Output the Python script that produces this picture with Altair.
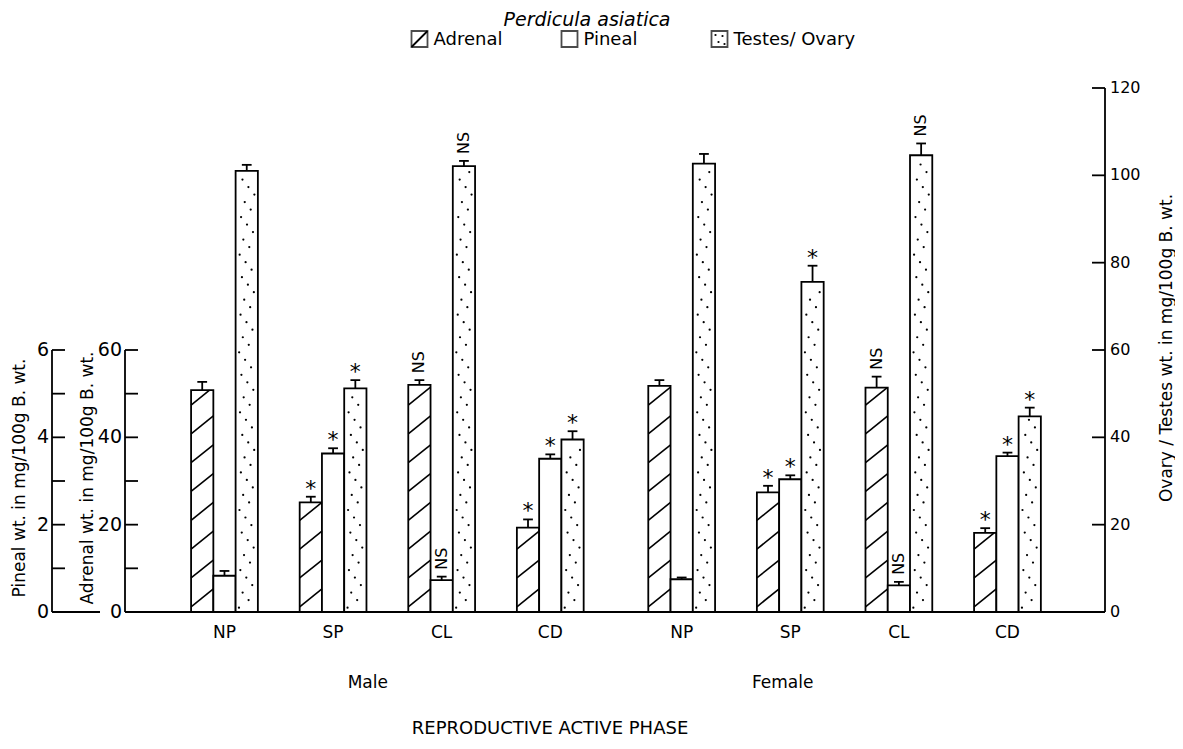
import altair as alt
import pandas as pd

# ---------------- data ----------------
phases = ["NP", "SP", "CL", "CD"]
sexes = ["Male", "Female"]
organs = ["Adrenal", "Pineal", "Testes/ Ovary"]

# order: Male NP, SP, CL, CD, Female NP, SP, CL, CD
adrenal = [50.8, 25.1, 52.0, 19.3, 51.8, 27.4, 51.4, 18.1]        # mg/100 g
adrenal_se = [1.9, 1.3, 1.1, 1.9, 1.3, 1.5, 2.5, 1.1]
pineal = [0.83, 3.63, 0.73, 3.51, 0.75, 3.04, 0.61, 3.57]          # mg/100 g
pineal_se = [0.11, 0.12, 0.08, 0.10, 0.04, 0.09, 0.08, 0.08]
gonad = [101.0, 51.2, 102.1, 39.5, 102.7, 75.6, 104.6, 44.8]        # mg/100 g
gonad_se = [1.4, 1.9, 1.2, 1.9, 2.2, 3.7, 2.7, 2.0]
signif = ["", "*", "NS", "*", "", "*", "NS", "*"]

pineal_ticks = [0, 1, 2, 3, 4, 5, 6]
pineal_labels = [0, 2, 4, 6]
adrenal_ticks = [0, 10, 20, 30, 40, 50, 60]
adrenal_labels = [0, 20, 40, 60]
right_ticks = [0, 20, 40, 60, 80, 100, 120]

title = "Perdicula asiatica"
pineal_title = "Pineal wt. in mg/100g B. wt."
adrenal_title = "Adrenal wt. in mg/100g B. wt."
right_title = "Ovary / Testes wt. in mg/100g B. wt."
x_title = "REPRODUCTIVE ACTIVE PHASE"

# ---------------- layout constants ----------------
W, H = 980, 524
XMIN, XMAX = -0.916, 8.108
GAP = 0.21           # extra space between Male and Female groups
BW = 0.205           # bar width (x units)
CAP = 0.045          # half width of error-bar cap
PINEAL_FACTOR = 10   # pineal axis 0-6 sits beside adrenal axis 0-60
TICK = 13
FONT = "DejaVu Sans"
SW = 1.8

XS = alt.Scale(domain=[XMIN, XMAX], nice=False, zero=False)
YS = alt.Scale(domain=[0, 120], nice=False, zero=False)


def X(f):
    return alt.X(f, type="quantitative", scale=XS, axis=None)


def Y(f):
    return alt.Y(f, type="quantitative", scale=YS, axis=None)


# ---------------- derived tables ----------------
rows = []
for si, sex in enumerate(sexes):
    for pi, ph in enumerate(phases):
        i = si * 4 + pi
        pos = pi + si * (4 + GAP)
        vals = [adrenal[i], pineal[i] * PINEAL_FACTOR, gonad[i]]
        ses = [adrenal_se[i], pineal_se[i] * PINEAL_FACTOR, gonad_se[i]]
        for oi, org in enumerate(organs):
            c = pos + (oi - 1) * BW
            rows.append(dict(sex=sex, phase=ph, organ=org, pos=pos, center=c,
                             left=c - BW / 2, right=c + BW / 2, base=0.0,
                             val=vals[oi], top=vals[oi] + ses[oi],
                             capl=c - CAP, capr=c + CAP, sig=signif[i]))
bar_df = pd.DataFrame(rows)

# diagonal hatching of the adrenal bars
HSTEP, HRISE, HPHASE = 6.6, 4.1, 1.2
hatch = []
for r in rows:
    if r["organ"] != organs[0]:
        continue
    y0 = HPHASE - HSTEP
    while y0 < r["val"]:
        t0 = max(0.0, (0 - y0) / HRISE)
        t1 = min(1.0, (r["val"] - y0) / HRISE)
        if t1 > t0:
            hatch.append(dict(x0=r["left"] + t0 * BW, x1=r["left"] + t1 * BW,
                              y0=y0 + t0 * HRISE, y1=y0 + t1 * HRISE))
        y0 += HSTEP
hatch_df = pd.DataFrame(hatch)

# stipple of the testes / ovary bars
DSTEP = 1.72
dots = []
for r in rows:
    if r["organ"] != organs[2]:
        continue
    k = 0
    y = 1.0
    while y < r["val"] - 0.8:
        frac = (k * 0.618) % 1.0
        dots.append(dict(x=r["left"] + BW * (0.15 + 0.7 * frac), y=y))
        k += 1
        y += DSTEP
dots_df = pd.DataFrame(dots)

group_df = bar_df.drop_duplicates("pos")[["pos", "phase"]]
sex_df = pd.DataFrame({"sex": sexes, "pos": [1.32, 4 + GAP + 0.93]})

black = dict(color="black", strokeWidth=SW)

# ---------------- bars & decorations ----------------
bars = alt.Chart(bar_df).mark_rect(fill="white", stroke="black", strokeWidth=SW).encode(
    x=X("left"), x2=alt.X2("right"), y=Y("val"), y2=alt.Y2("base"))
hatch_l = alt.Chart(hatch_df).mark_rule(color="black", strokeWidth=1.6).encode(
    x=X("x0"), x2=alt.X2("x1"), y=Y("y0"), y2=alt.Y2("y1"))
dots_l = alt.Chart(dots_df).mark_circle(color="black", size=5, opacity=1).encode(
    x=X("x"), y=Y("y"))
err = alt.Chart(bar_df).mark_rule(**black).encode(x=X("center"), y=Y("val"), y2=alt.Y2("top"))
cap = alt.Chart(bar_df).mark_rule(**black).encode(x=X("capl"), x2=alt.X2("capr"), y=Y("top"))
stars = alt.Chart(bar_df).transform_filter(alt.datum.sig == "*").mark_text(
    font=FONT, fontSize=22, baseline="alphabetic", dy=-1).encode(
    x=X("center"), y=Y("top"), text="sig:N")
ns = alt.Chart(bar_df).transform_filter(alt.datum.sig == "NS").mark_text(
    font=FONT, fontSize=16, angle=270, align="left", baseline="middle", dx=7).encode(
    x=X("center"), y=Y("top"), text="sig:N")

# ---------------- axes drawn by hand ----------------
one = pd.DataFrame({"b": [0.0]})
baseline = alt.Chart(one).mark_rule(**black).encode(
    x=alt.value(0), x2=alt.value(W), y=Y("b"))
pin_base = alt.Chart(one).mark_rule(**black).encode(
    x=alt.value(-73), x2=alt.value(-25), y=Y("b"))

adr_df = pd.DataFrame({"v": adrenal_ticks})
adr_dom = alt.Chart(pd.DataFrame({"lo": [0], "hi": [max(adrenal_ticks)]})).mark_rule(**black).encode(
    x=alt.value(0), y=Y("lo"), y2=alt.Y2("hi"))
adr_tk = alt.Chart(adr_df).mark_rule(**black).encode(
    x=alt.value(0), x2=alt.value(TICK), y=Y("v"))
adr_lab = alt.Chart(pd.DataFrame({"v": adrenal_labels})).mark_text(
    font=FONT, fontSize=19, align="right", baseline="middle").encode(
    x=alt.value(-3), y=Y("v"), text="v:Q")

pin_df = pd.DataFrame({"v": pineal_ticks})
pin_dom = alt.Chart(pd.DataFrame({"lo": [0], "hi": [max(pineal_ticks)]})).transform_calculate(
    hs=f"datum.hi * {PINEAL_FACTOR}").mark_rule(**black).encode(
    x=alt.value(-73), y=Y("lo"), y2=alt.Y2("hs"))
pin_tk = alt.Chart(pin_df).transform_calculate(s=f"datum.v * {PINEAL_FACTOR}").mark_rule(**black).encode(
    x=alt.value(-73), x2=alt.value(-73 + TICK), y=Y("s"))
pin_lab = alt.Chart(pd.DataFrame({"v": pineal_labels})).transform_calculate(
    s=f"datum.v * {PINEAL_FACTOR}").mark_text(
    font=FONT, fontSize=19, align="right", baseline="middle").encode(
    x=alt.value(-76), y=Y("s"), text="v:Q")

rt_df = pd.DataFrame({"v": right_ticks})
rt_dom = alt.Chart(pd.DataFrame({"lo": [0], "hi": [max(right_ticks)]})).mark_rule(**black).encode(
    x=alt.value(W), y=Y("lo"), y2=alt.Y2("hi"))
rt_tk = alt.Chart(rt_df).mark_rule(**black).encode(
    x=alt.value(W - TICK), x2=alt.value(W), y=Y("v"))
rt_lab = alt.Chart(rt_df).mark_text(font=FONT, fontSize=16, align="left", baseline="middle").encode(
    x=alt.value(W + 5), y=Y("v"), text="v:Q")


def ptext(txt, x, y, size, angle=0, style="normal"):
    kw = dict(font=FONT, fontSize=size, align="center", baseline="middle", fontStyle=style)
    if angle:
        kw["angle"] = angle
    return alt.Chart(pd.DataFrame({"t": [txt]})).mark_text(**kw).encode(
        x=alt.value(x), y=alt.value(y), text="t:N")


titles = [
    ptext(pineal_title, -105, 390, 17, 270),
    ptext(adrenal_title, -37, 390, 17, 270),
    ptext(right_title, 1042, 260, 17, 270),
    ptext(x_title, 425, H + 117, 18),
    ptext(title, 462, -68, 19, style="italic"),
]

cat_lab = alt.Chart(group_df).mark_text(font=FONT, fontSize=17, baseline="middle").encode(
    x=X("pos"), y=alt.value(H + 21), text="phase:N")
sex_lab = alt.Chart(sex_df).mark_text(font=FONT, fontSize=17, baseline="middle").encode(
    x=X("pos"), y=alt.value(H + 71), text="sex:N")

# ---------------- legend ----------------
LY = -49
leg_df = pd.DataFrame({"organ": organs, "bx": [294.5 + 150 * i for i in range(len(organs))]})
leg_box = alt.Chart(leg_df).mark_point(shape="square", size=256, filled=False, stroke="black",
                                       strokeWidth=SW, fill="white").encode(
    x=alt.X("bx:Q", scale=None), y=alt.value(LY))
leg_txt = alt.Chart(leg_df).transform_calculate(tx="datum.bx + 14").mark_text(
    font=FONT, fontSize=18, align="left", baseline="middle").encode(
    x=alt.X("tx:Q", scale=None), y=alt.value(LY + 1), text="organ:N")
leg_hatch = alt.Chart(leg_df.iloc[[0]]).transform_calculate(
    a="datum.bx - 8", b="datum.bx + 8").mark_rule(**black).encode(
    x=alt.X("a:Q", scale=None), x2="b:Q", y=alt.value(LY + 8), y2=alt.value(LY - 8))
leg_dots_df = pd.DataFrame({"dx": [-4, 3, -1, 5], "dy": [-4, -3, 3, 5]})
leg_dots = alt.Chart(leg_dots_df).transform_calculate(
    px=f"{294.5 + 300} + datum.dx", py=f"{LY} + datum.dy").mark_circle(
    color="black", size=5, opacity=1).encode(
    x=alt.X("px:Q", scale=None), y=alt.Y("py:Q", scale=None))

chart = alt.layer(
    bars, hatch_l, dots_l, err, cap, stars, ns,
    baseline, pin_base, adr_dom, adr_tk, adr_lab, pin_dom, pin_tk, pin_lab,
    rt_dom, rt_tk, rt_lab, *titles, cat_lab, sex_lab,
    leg_box, leg_hatch, leg_dots, leg_txt,
).properties(
    width=W, height=H,
    padding={"left": 117, "top": 80, "right": 70, "bottom": 129},
    autosize=alt.AutoSizeParams(type="none"),
    background="white",
).configure_view(stroke=None)

chart.save("out.html", embed_options={"renderer": "svg", "actions": False})
